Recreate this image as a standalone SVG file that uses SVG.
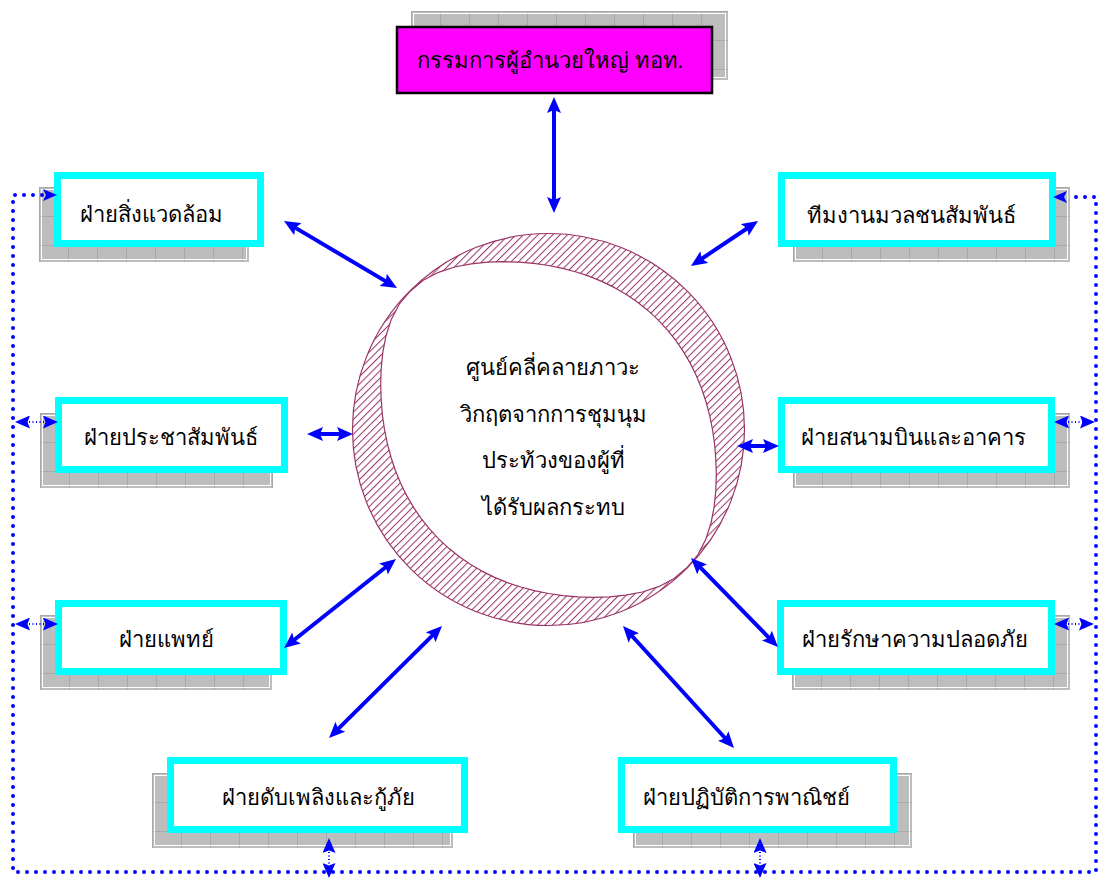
<svg xmlns="http://www.w3.org/2000/svg" width="1098" height="879" viewBox="0 0 1098 879">
<style>
.txt{font-family:"Liberation Serif","DejaVu Serif",serif;font-size:22px;fill:#000;text-anchor:middle}
.box{fill:#fff;stroke:#00ffff;stroke-width:7}
.shadow{fill:url(#grid)}
.shin{fill:none;stroke:#fff;stroke-width:1}
.arr{stroke:#0000ff;stroke-width:4;fill:none;marker-start:url(#ah);marker-end:url(#ah)}
.dot{stroke:#0000ff;stroke-width:4;fill:none;stroke-dasharray:0 9;stroke-linecap:round}
.sdot{stroke:#0000ff;stroke-width:2;fill:none;stroke-dasharray:1 2.5;marker-start:url(#sh);marker-end:url(#sh)}
</style>
<defs>
<pattern id="grid" patternUnits="userSpaceOnUse" width="29" height="29">
<rect width="29" height="29" fill="#bdbdbd"/>
<path d="M0 0.5H29M0.5 0V29" stroke="#a8a8a8" stroke-width="1"/>
</pattern>
<pattern id="hatch" patternUnits="userSpaceOnUse" width="5.2" height="10" patternTransform="rotate(45)">
<line x1="0.5" y1="0" x2="0.5" y2="10" stroke="#993366" stroke-width="1"/>
</pattern>
<marker id="ah" markerUnits="userSpaceOnUse" markerWidth="16" markerHeight="14" viewBox="0 0 16 14" refX="8" refY="7" orient="auto-start-reverse">
<path d="M0 0L16 7L0 14L3 7Z" fill="#0000ff"/>
</marker>
<marker id="sh" markerUnits="userSpaceOnUse" markerWidth="15" markerHeight="13" viewBox="0 0 15 13" refX="8" refY="6.5" orient="auto-start-reverse">
<path d="M0 0L15 6.5L0 13L2.5 6.5Z" fill="#0000ff"/>
</marker>
</defs>
<rect width="1098" height="879" fill="#fff"/>

<g id="center">
<circle cx="548.5" cy="429.5" r="196" fill="url(#hatch)" stroke="#993366" stroke-width="1.2"/>
<path transform="translate(548.5 429.5) rotate(45)" fill="#fff" stroke="#993366" stroke-width="1.2" stroke-linejoin="round" d="M195.6 0L194.16 16.99L188.98 33.32L181.21 48.55L171.77 62.52L161.41 75.27L150.43 86.85L139.17 97.45L127.7 107.15L115.97 115.97L103.97 123.91L91.74 131.02L79.25 137.27L66.5 142.61L53.53 147.06L40.32 150.49L26.98 152.99L13.52 154.51L0 155L-13.52 154.51L-26.98 152.99L-40.32 150.49L-53.53 147.06L-66.5 142.61L-79.25 137.27L-91.74 131.02L-103.97 123.91L-115.97 115.97L-127.7 107.15L-139.17 97.45L-150.43 86.85L-161.41 75.27L-171.77 62.52L-181.21 48.55L-188.98 33.32L-194.16 16.99L-195.6 0L-194.16 -16.99L-188.98 -33.32L-181.21 -48.55L-171.77 -62.52L-161.41 -75.27L-150.43 -86.85L-139.17 -97.45L-127.7 -107.15L-115.97 -115.97L-103.97 -123.91L-91.74 -131.02L-79.25 -137.27L-66.5 -142.61L-53.53 -147.06L-40.32 -150.49L-26.98 -152.99L-13.52 -154.51L0 -155L13.52 -154.51L26.98 -152.99L40.32 -150.49L53.53 -147.06L66.5 -142.61L79.25 -137.27L91.74 -131.02L103.97 -123.91L115.97 -115.97L127.7 -107.15L139.17 -97.45L150.43 -86.85L161.41 -75.27L171.77 -62.52L181.21 -48.55L188.98 -33.32L194.16 -16.99Z"/>
<text class="txt" x="553" y="375">ศูนย์คลี่คลายภาวะ</text>
<text class="txt" x="553" y="422">วิกฤตจากการชุมนุม</text>
<text class="txt" x="553" y="468">ประท้วงของผู้ที่</text>
<text class="txt" x="553" y="515">ได้รับผลกระทบ</text>
</g>

<g id="top">
<g transform="translate(411 11)"><rect class="shadow" width="317" height="69"/><rect class="shin" x="2.5" y="2.5" width="312" height="64"/></g>
<rect x="397" y="27" width="315" height="66" fill="#ff00ff" stroke="#000" stroke-width="2.5"/>
<text class="txt" x="550" y="68">กรรมการผู้อำนวยใหญ่ ทอท.</text>
</g>

<g id="n-env">
<g transform="translate(39 187)"><rect class="shadow" width="210" height="75"/><rect class="shin" x="2.5" y="2.5" width="205" height="70"/></g>
<rect class="box" x="57.5" y="175.5" width="203" height="68"/>
<text class="txt" x="151" y="222">ฝ่ายสิ่งแวดล้อม</text>
</g>

<g id="n-pr">
<g transform="translate(40 413)"><rect class="shadow" width="233" height="75"/><rect class="shin" x="2.5" y="2.5" width="228" height="70"/></g>
<rect class="box" x="58.5" y="400.5" width="226" height="69"/>
<text class="txt" x="171" y="445">ฝ่ายประชาสัมพันธ์</text>
</g>

<g id="n-med">
<g transform="translate(40 615)"><rect class="shadow" width="232" height="75"/><rect class="shin" x="2.5" y="2.5" width="227" height="70"/></g>
<rect class="box" x="58.5" y="603.5" width="225" height="68"/>
<text class="txt" x="166" y="647">ฝ่ายแพทย์</text>
</g>

<g id="n-mass">
<g transform="translate(793 187)"><rect class="shadow" width="277" height="75"/><rect class="shin" x="2.5" y="2.5" width="272" height="70"/></g>
<rect class="box" x="781.5" y="175.5" width="271" height="68"/>
<text class="txt" x="911" y="223">ทีมงานมวลชนสัมพันธ์</text>
</g>

<g id="n-airport">
<g transform="translate(793 413)"><rect class="shadow" width="277" height="75"/><rect class="shin" x="2.5" y="2.5" width="272" height="70"/></g>
<rect class="box" x="781.5" y="400.5" width="270" height="69"/>
<text class="txt" x="913" y="445">ฝ่ายสนามบินและอาคาร</text>
</g>

<g id="n-sec">
<g transform="translate(792 615)"><rect class="shadow" width="278" height="75"/><rect class="shin" x="2.5" y="2.5" width="273" height="70"/></g>
<rect class="box" x="780.5" y="603.5" width="271" height="68"/>
<text class="txt" x="915" y="647">ฝ่ายรักษาความปลอดภัย</text>
</g>

<g id="n-fire">
<g transform="translate(152 773)"><rect class="shadow" width="301" height="75"/><rect class="shin" x="2.5" y="2.5" width="296" height="70"/></g>
<rect class="box" x="170.5" y="760.5" width="294" height="69"/>
<text class="txt" x="318" y="805">ฝ่ายดับเพลิงและกู้ภัย</text>
</g>

<g id="n-com">
<g transform="translate(633 773)"><rect class="shadow" width="279" height="75"/><rect class="shin" x="2.5" y="2.5" width="274" height="70"/></g>
<rect class="box" x="621.5" y="760.5" width="272" height="69"/>
<text class="txt" x="746" y="805">ฝ่ายปฏิบัติการพาณิชย์</text>
</g>

<g id="connectors">
<path class="dot" d="M42 195H13V872H1096V197H1068"/>
<path d="M43 189L57 195L43 201L46 195Z" fill="#0000ff"/>
<path d="M1067 191L1053 197L1067 203L1064 197Z" fill="#0000ff"/>
<line class="sdot" x1="22" y1="422" x2="51" y2="422"/>
<line class="sdot" x1="22" y1="624" x2="51" y2="624"/>
<line class="sdot" x1="1061" y1="422" x2="1088" y2="422"/>
<line class="sdot" x1="1061" y1="624" x2="1087" y2="624"/>
<line class="sdot" x1="329" y1="845" x2="329" y2="871"/>
<line class="sdot" x1="760" y1="845" x2="760" y2="871"/>
<line class="arr" x1="554" y1="105" x2="554" y2="205"/>
<line class="arr" x1="290.9" y1="225.1" x2="390.1" y2="283.9"/>
<line class="arr" x1="751.4" y1="225.5" x2="697.6" y2="261.5"/>
<line class="arr" x1="315" y1="434" x2="345" y2="434"/>
<line class="arr" x1="745" y1="446" x2="771" y2="446"/>
<line class="arr" x1="389.7" y1="564" x2="290.3" y2="643"/>
<line class="arr" x1="696.6" y1="563.7" x2="772.4" y2="641.3"/>
<line class="arr" x1="436.3" y1="631.6" x2="334.7" y2="732.4"/>
<line class="arr" x1="628.4" y1="632" x2="728.6" y2="742"/>
</g>
</svg>
